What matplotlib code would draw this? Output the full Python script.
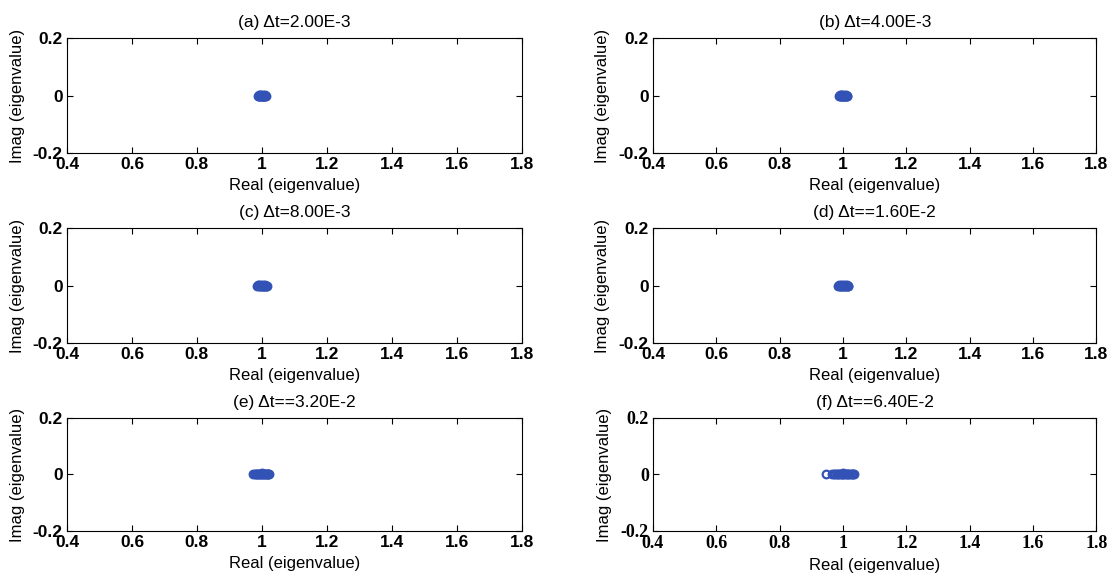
import numpy as np
import matplotlib
matplotlib.use("Agg")
import matplotlib.pyplot as plt

# eigenvalues (real, imag)
titles = [u"(a) \u0394t=2.00E-3", u"(b) \u0394t=4.00E-3",
          u"(c) \u0394t=8.00E-3", u"(d) \u0394t==1.60E-2",
          u"(e) \u0394t==3.20E-2", u"(f) \u0394t==6.40E-2"]

re_a = [0.988, 0.990, 0.992, 0.994, 0.996, 0.998, 1.000, 1.002, 1.004, 1.006, 1.008, 1.010, 1.012,
        0.991, 0.995, 0.999, 1.003, 1.007, 1.011]
im_a = [0.000, 0.002, -0.002, 0.003, -0.003, 0.002, 0.000, -0.003, 0.003, 0.000, -0.002, 0.001, 0.000,
        0.000, 0.000, 0.000, 0.000, 0.000, 0.000]
re_b = [0.987, 0.989, 0.991, 0.993, 0.995, 0.997, 0.999, 1.001, 1.003, 1.005, 1.007, 1.009, 1.011, 1.013,
        0.992, 0.998, 1.004, 1.010]
im_b = [0.000, 0.002, -0.002, 0.002, -0.002, 0.002, 0.000, -0.002, 0.002, 0.000, -0.001, 0.001, 0.000, 0.000,
        0.000, 0.000, 0.000, 0.000]
re_c = [0.986, 0.988, 0.990, 0.992, 0.994, 0.996, 0.998, 1.000, 1.002, 1.004, 1.006, 1.008, 1.010, 1.012,
        1.014, 1.015]
im_c = [0.000, 0.001, -0.001, 0.001, 0.000, -0.001, 0.001, 0.000, -0.001, 0.001, 0.000, -0.001, 0.001, 0.000,
        0.000, 0.000]
re_d = [0.985, 0.987, 0.989, 0.991, 0.993, 0.995, 0.997, 0.999, 1.001, 1.003, 1.005, 1.007, 1.009, 1.011,
        1.013, 1.015, 1.017]
im_d = [0.000, 0.001, -0.001, 0.000, 0.001, -0.001, 0.000, 0.001, -0.001, 0.000, 0.001, -0.001, 0.000, 0.001,
        0.000, 0.000, 0.000]
re_e = [0.973, 0.978, 0.982, 0.985, 0.988, 0.991, 0.994, 0.997, 1.000, 1.000, 1.003, 1.006, 1.009, 1.012,
        1.015, 1.018, 1.020, 1.022]
im_e = [0.000, 0.000, 0.000, 0.000, 0.000, 0.000, 0.000, 0.000, 0.000, 0.004, 0.000, 0.000, 0.000, 0.000,
        0.000, 0.000, 0.000, 0.000]
re_f = [0.947, 0.964, 0.970, 0.975, 0.980, 0.984, 0.988, 0.992, 0.996, 1.000, 1.000, 1.004, 1.008, 1.012,
        1.016, 1.020, 1.024, 1.028, 1.032, 1.035]
im_f = [0.000, 0.000, 0.000, 0.000, 0.000, 0.000, 0.000, 0.000, 0.000, 0.000, 0.006, 0.000, 0.000, 0.000,
        0.000, 0.000, 0.000, 0.000, 0.000, 0.000]

reals = [re_a, re_b, re_c, re_d, re_e, re_f]
imags = [im_a, im_b, im_c, im_d, im_e, im_f]

xticks = [0.4, 0.6, 0.8, 1.0, 1.2, 1.4, 1.6, 1.8]
xticklabels = ['0.4', '0.6', '0.8', '1', '1.2', '1.4', '1.6', '1.8']
yticks = [-0.2, 0, 0.2]
yticklabels = ['-0.2', '0', '0.2']

plt.rcParams['font.family'] = ['Liberation Sans', 'DejaVu Sans']

fig = plt.figure(figsize=(11.17, 5.8), dpi=100)

lefts = [0.060, 0.5846]
widths = [0.407, 0.397]
bottoms = [0.7362, 0.4086, 0.0845]
heights = [0.198, 0.198, 0.195]

col = '#3352b5'
for k in range(6):
    r = k // 2
    c = k % 2
    ax = fig.add_axes([lefts[c], bottoms[r], widths[c], heights[r]])
    ax.plot(reals[k], imags[k], 'o', mfc='none', mec=col, ms=5.5, mew=1.6)
    ax.set_xlim(0.4, 1.8)
    ax.set_ylim(-0.2, 0.2)
    ax.set_xticks(xticks)
    ax.set_yticks(yticks)
    if k == 5:
        tfont = dict(family=['Liberation Serif', 'DejaVu Serif'], weight='bold', size=13)
    else:
        tfont = dict(weight='bold', size=12.5)
    ax.set_xticklabels(xticklabels, **tfont)
    ax.set_yticklabels(yticklabels, **tfont)
    ax.tick_params(direction='in', top=True, right=True, length=4, width=0.8, pad=3)
    for sp in ax.spines.values():
        sp.set_linewidth(0.8)
    ax.set_title(titles[k], fontsize=12.5, pad=8)
    ax.set_xlabel('Real (eigenvalue)', fontsize=12, labelpad=4)
    ax.set_ylabel('Imag (eigenvalue)', fontsize=12, labelpad=6)

fig.savefig('out.png', dpi=100)
